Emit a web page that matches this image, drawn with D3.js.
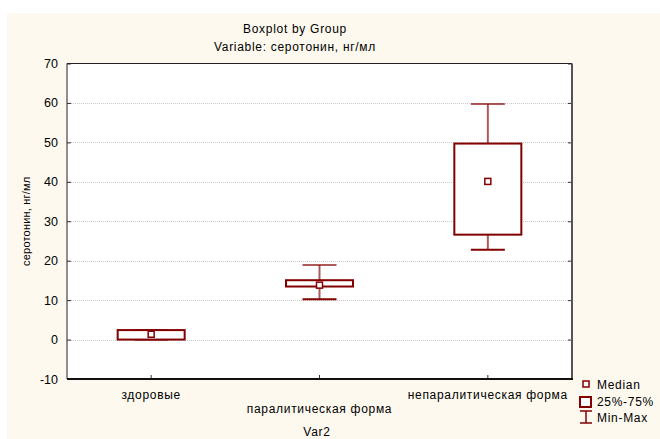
<!DOCTYPE html>
<html><head><meta charset="utf-8">
<script src="https://cdn.jsdelivr.net/npm/d3@7"></script>
<style>body{margin:0;background:#fff}svg{display:block}text{font-family:"Liberation Sans",Arial,sans-serif;fill:#000}</style>
</head><body>
<script>
const categories = ["здоровые", "паралитическая форма", "непаралитическая форма"];
const minVals = [0, 10.2, 22.8];
const q1Vals = [0, 13.45, 26.6];
const medianVals = [1.35, 13.8, 40.1];
const q3Vals = [2.4, 15.05, 49.7];
const maxVals = [2.4, 18.9, 59.7];
const yTicks = [-10, 0, 10, 20, 30, 40, 50, 60, 70];

const data = categories.map((c, i) => ({c, min: minVals[i], q1: q1Vals[i], med: medianVals[i], q3: q3Vals[i], max: maxVals[i]}));

const W = 660, H = 439;
const m = {l: 67, r: 572, t: 63.5, b: 379};
const FS = 12, LS = "0.7px";
const svg = d3.select("body").append("svg").attr("width", W).attr("height", H);
svg.append("rect").attr("x", 7).attr("y", 13).attr("width", W - 7).attr("height", H - 13).attr("fill", "#fdf9ef");
svg.append("rect").attr("x", m.l).attr("y", m.t).attr("width", m.r - m.l).attr("height", m.b - m.t).attr("fill", "#fff");

const y = d3.scaleLinear().domain([-10, 70]).range([m.b, m.t]);
const x = d3.scaleBand().domain(categories).range([m.l, m.r]);
const red = "#820000";

// grid
svg.append("g").selectAll("line").data(yTicks.filter(t => t > -10 && t < 70)).join("line")
  .attr("x1", m.l).attr("x2", m.r).attr("y1", d => Math.round(y(d)) + 0.5).attr("y2", d => Math.round(y(d)) + 0.5)
  .attr("stroke", "#c8c8c8").attr("stroke-dasharray", "1,1");

// left axis
const yAxis = d3.axisLeft(y).tickValues(yTicks).tickSize(-4).tickPadding(9).tickFormat(d => String(d));
const gy = svg.append("g").attr("transform", `translate(${m.l},0)`).call(yAxis);
gy.select(".domain").remove();
gy.selectAll("text").attr("font-size", 12.5).attr("font-family", "Liberation Sans, Arial, sans-serif").attr("fill", "#000");
gy.selectAll("line").attr("stroke", "#333");
// right ticks
const gyr = svg.append("g").attr("transform", `translate(${m.r},0)`).call(d3.axisRight(y).tickValues(yTicks).tickSize(-4).tickFormat(""));
gyr.select(".domain").remove();
gyr.selectAll("line").attr("stroke", "#333");
// bottom ticks
const gx = svg.append("g").attr("transform", `translate(0,${m.b})`).call(d3.axisBottom(x).tickSize(-4).tickFormat(""));
gx.select(".domain").remove();
gx.selectAll("line").attr("stroke", "#333");

// frame
svg.append("line").attr("x1", m.l).attr("x2", m.r).attr("y1", m.t).attr("y2", m.t).attr("stroke", "#222");
svg.append("line").attr("x1", m.l).attr("x2", m.l).attr("y1", m.t).attr("y2", m.b).attr("stroke", "#222");
svg.append("line").attr("x1", m.r).attr("x2", m.r).attr("y1", m.t).attr("y2", m.b + 1).attr("stroke", "#555").attr("stroke-width", 2);
svg.append("line").attr("x1", m.l).attr("x2", m.r + 1).attr("y1", m.b).attr("y2", m.b).attr("stroke", "#111").attr("stroke-width", 2);

// boxes
const bw = 67, cw = 34;
const g = svg.append("g").selectAll("g").data(data).join("g")
  .attr("transform", d => `translate(${x(d.c) + x.bandwidth() / 2},0)`);
g.append("line").attr("x1", 0).attr("x2", 0).attr("y1", d => y(d.max)).attr("y2", d => y(d.q3)).attr("stroke", red).attr("stroke-width", 2).attr("stroke-opacity", 0.65);
g.append("line").attr("x1", 0).attr("x2", 0).attr("y1", d => y(d.q1)).attr("y2", d => y(d.min)).attr("stroke", red).attr("stroke-width", 2).attr("stroke-opacity", 0.65);
g.append("line").attr("x1", -cw / 2).attr("x2", cw / 2).attr("y1", d => y(d.max)).attr("y2", d => y(d.max)).attr("stroke", red).attr("stroke-width", 2).attr("stroke-opacity", 0.65);
g.append("line").attr("x1", -cw / 2).attr("x2", cw / 2).attr("y1", d => y(d.min)).attr("y2", d => y(d.min)).attr("stroke", red).attr("stroke-width", 2);
g.append("rect").attr("x", -bw / 2).attr("width", bw).attr("y", d => y(d.q3)).attr("height", d => y(d.q1) - y(d.q3))
  .attr("fill", "#fff").attr("stroke", red).attr("stroke-width", 2);
g.append("rect").attr("x", -3).attr("width", 6).attr("y", d => y(d.med) - 3).attr("height", 6)
  .attr("fill", "#fff").attr("stroke", red).attr("stroke-width", 1.5);

function txt(sel, xx, yy, s, anchor) {
  return sel.append("text").attr("x", xx).attr("y", yy).attr("text-anchor", anchor || "middle")
    .attr("font-size", FS).attr("letter-spacing", LS).text(s);
}
// titles
txt(svg, 295, 33, "Boxplot by Group");
txt(svg, 295, 51, "Variable: серотонин, нг/мл");

// category labels (staggered)
svg.append("g").selectAll("text").data(categories).join("text")
  .attr("x", d => x(d) + x.bandwidth() / 2).attr("y", (d, i) => i % 2 ? 413 : 399)
  .attr("text-anchor", "middle").attr("font-size", FS).attr("letter-spacing", LS).text(d => d);
txt(svg, 317, 436, "Var2");
svg.append("text").attr("transform", `translate(30,${(m.t + m.b) / 2}) rotate(-90)`).attr("text-anchor", "middle").attr("font-size", 11).attr("letter-spacing", "0.2px").text("серотонин, нг/мл");

// legend
const lg = svg.append("g");
lg.append("rect").attr("x", 583).attr("y", 381).attr("width", 6).attr("height", 6).attr("fill", "#fff").attr("stroke", red).attr("stroke-width", 1.5);
txt(lg, 597, 389, "Median", "start");
lg.append("rect").attr("x", 580).attr("y", 397).attr("width", 11).attr("height", 10).attr("fill", "#fff").attr("stroke", red).attr("stroke-width", 2);
txt(lg, 597, 406, "25%-75%", "start");
lg.append("line").attr("x1", 586).attr("x2", 586).attr("y1", 411).attr("y2", 423).attr("stroke", red).attr("stroke-width", 1.5);
lg.append("line").attr("x1", 580).attr("x2", 592).attr("y1", 411).attr("y2", 411).attr("stroke", red).attr("stroke-width", 1.5);
lg.append("line").attr("x1", 580).attr("x2", 592).attr("y1", 423).attr("y2", 423).attr("stroke", red).attr("stroke-width", 1.5);
txt(lg, 597, 422, "Min-Max", "start");
</script>
</body></html>
